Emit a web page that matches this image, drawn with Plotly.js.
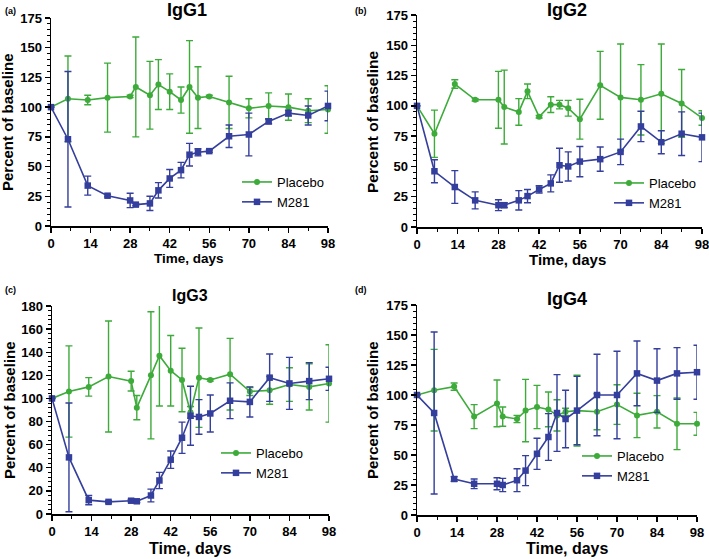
<!DOCTYPE html>
<html>
<head>
<meta charset="utf-8">
<script src="https://cdn.plot.ly/plotly-3.0.1.min.js"></script>
<style>
  html, body { margin: 0; padding: 0; background: #fff; }
  #chart { width: 709px; height: 559px; }
</style>
</head>
<body>
<div id="chart"></div>
<script>
// sampling days (same in every panel)
var days = [0, 6, 13, 20, 28, 30, 35, 38, 42, 46, 49, 52, 56, 63, 70, 77, 84, 91, 98];

// IgG1
var igg1Placebo    = [100, 107, 106, 108, 109, 117, 110, 119, 113, 106, 117, 108, 109, 104, 99, 101, 100, 97, 98];
var igg1PlaceboErr = [0, 36, 4, 29, 1, 42, 28.5, 21, 15, 11, 39, 26, 1, 22, 8, 11, 11, 10, 20];
var igg1M281       = [100, 73, 34, 25.5, 21.5, 18, 19, 30, 40, 47, 60, 62, 63, 75.5, 77, 88, 95, 93, 101];
var igg1M281Err    = [0, 57, 8, 1, 6, 1, 6, 6.5, 7.5, 6.5, 9.5, 3, 1, 9.5, 18, 2, 2.5, 8, 12.5];

// IgG2
var igg2Placebo    = [100, 77, 118, 105, 105, 99, 95, 112, 91, 101, 101, 98, 89, 117, 107, 105, 110, 102, 90];
var igg2PlaceboErr = [0, 19.5, 3.5, 1, 23.5, 30.5, 11, 6, 1, 6.5, 3.5, 6.5, 16.5, 28, 44, 29, 41, 28, 6];
var igg2M281       = [100, 46, 33, 22, 18, 18, 22, 25.5, 31, 36, 51, 50, 54, 56, 62, 83, 70, 77, 74];
var igg2M281Err    = [0, 9.5, 13.5, 7, 4.5, 2, 8, 5.5, 3, 7, 14, 12, 12.5, 10, 10.5, 12.5, 9.5, 18, 20];

// IgG3
var igg3Placebo    = [100, 106, 110, 119, 115, 92, 120, 137, 124, 116, 88, 118, 116, 121, 106, 107, 112, 110, 113];
var igg3PlaceboErr = [0, 39.5, 8, 48, 8.5, 10.5, 55, 43.5, 30.5, 27.5, 5, 43, 1, 31, 3.5, 12, 14.5, 20, 33.5];
var igg3M281       = [100, 49, 12, 10.5, 11.5, 11, 16, 29, 47, 66, 85, 84, 87, 98, 97, 118, 113, 115, 117];
var igg3M281Err    = [0, 47, 4, 1, 1, 1, 5.5, 7, 7.5, 13.5, 25.5, 15, 16, 15.5, 13, 20.5, 22.5, 16, 10];

// IgG4
var igg4Placebo    = [100, 104, 107, 82, 93, 82, 80, 87, 90, 88, 83, 86, 87, 86, 92, 83, 86, 76, 76];
var igg4PlaceboErr = [0, 34, 3, 10, 19.5, 8, 3, 26, 18, 14.5, 13, 3, 29.5, 15, 16.5, 18.5, 13.5, 21.5, 9.5];
var igg4M281       = [100, 85, 30, 26, 26, 25, 29, 37, 51, 65, 85, 80, 87, 100, 100, 118, 112, 118, 119];
var igg4M281Err    = [0, 67.5, 2, 4, 5, 5.5, 9.5, 12.5, 13, 19.5, 32, 24, 28.5, 34, 36.5, 27, 26.5, 21.5, 22.5];

var green = '#3DAB3A';
var blue = '#343E9C';
var fontFamily = 'Arial, "Liberation Sans", sans-serif';
var narrowFamily = '"Liberation Sans Narrow", "Arial Narrow", Arial, "Liberation Sans", sans-serif';

var panels = [
    {name: 'IgG1', tag: '(a)', placebo: igg1Placebo, placeboErr: igg1PlaceboErr, m281: igg1M281, m281Err: igg1M281Err},
    {name: 'IgG2', tag: '(b)', placebo: igg2Placebo, placeboErr: igg2PlaceboErr, m281: igg2M281, m281Err: igg2M281Err},
    {name: 'IgG3', tag: '(c)', placebo: igg3Placebo, placeboErr: igg3PlaceboErr, m281: igg3M281, m281Err: igg3M281Err},
    {name: 'IgG4', tag: '(d)', placebo: igg4Placebo, placeboErr: igg4PlaceboErr, m281: igg4M281, m281Err: igg4M281Err}
];

// pixel boxes of each plot area (left, right, top, bottom)
var boxes = [
    [51, 328, 18, 226],
    [417, 702, 15, 227],
    [52, 329, 306, 514],
    [417, 697, 305, 515]
];
var yMax = [175, 175, 180, 175];
var yDtick = [25, 25, 20, 25];
var yMinor = [5, 5, 4, 5];
var legendPos = [[237, 167], [609, 168], [216, 438], [577, 441]];
var titlePos = [[187, 10, 18], [567, 10, 18], [190, 295, 16], [567, 299, 18]];
var tagPos = [[3, 4], [353, 4], [3, 283], [353, 283]];
var xTitlePos = [[189, 258, 13.5], [567, 259, 15], [190, 548, 16], [567, 548, 16]];
var yTitlePos = [[8, 122, 15], [373, 121, 15.5], [9, 410, 15], [372, 410, 15]];

var W = 709, H = 559;
var traces = [];
var layout = {
    width: W,
    height: H,
    margin: {l: 0, r: 0, t: 0, b: 0},
    paper_bgcolor: '#fff',
    plot_bgcolor: 'rgba(0,0,0,0)',
    font: {family: fontFamily, color: '#000'},
    annotations: []
};

function getTrace(name, y, err, color, symbol, size, idx, legendName){
    let suffix = idx === 0 ? '' : String(idx + 1);
    return {
        name: name,
        x: days,
        y: y,
        type: 'scatter',
        mode: 'lines+markers',
        xaxis: 'x' + suffix,
        yaxis: 'y' + suffix,
        legend: legendName,
        cliponaxis: false,
        line: {color: color, width: 1.6},
        marker: {color: color, symbol: symbol, size: size},
        error_y: {type: 'data', array: err, visible: true, color: color, thickness: 1.4, width: 3.5}
    };
}

function getXAxis(i){
    let b = boxes[i];
    return {
        domain: [b[0] / W, b[1] / W],
        range: [0, 98],
        anchor: i === 0 ? 'y' : 'y' + (i + 1),
        tickvals: [0, 14, 28, 42, 56, 70, 84, 98],
        ticks: 'outside',
        ticklen: 5,
        tickwidth: 1.3,
        tickcolor: '#000',
        minor: {dtick: 7, tick0: 0, ticks: 'outside', ticklen: 3, tickcolor: '#000', tickwidth: 1},
        showline: true,
        linecolor: '#000',
        linewidth: 1.5,
        showgrid: false,
        zeroline: false,
        ticklabeloverflow: 'allow',
        tickfont: {family: fontFamily, size: 13, weight: 'bold'}
    };
}

function getYAxis(i){
    let b = boxes[i];
    return {
        domain: [1 - b[3] / H, 1 - b[2] / H],
        range: [0, yMax[i]],
        anchor: i === 0 ? 'x' : 'x' + (i + 1),
        dtick: yDtick[i],
        ticks: 'outside',
        ticklen: 5,
        tickwidth: 1.3,
        tickcolor: '#000',
        minor: {dtick: yMinor[i], ticks: 'outside', ticklen: 3, tickcolor: '#000', tickwidth: 1},
        showline: true,
        linecolor: '#000',
        linewidth: 1.5,
        showgrid: false,
        zeroline: false,
        ticklabeloverflow: 'allow',
        tickfont: {family: fontFamily, size: 13, weight: 'bold'}
    };
}

function paperText(text, px, py, size, family, extra){
    let a = {
        text: text,
        xref: 'paper', yref: 'paper',
        x: px / W, y: 1 - py / H,
        xanchor: 'center', yanchor: 'middle',
        showarrow: false,
        font: {family: family, size: size, color: '#000'}
    };
    return Object.assign(a, extra || {});
}

for (let i = 0; i < panels.length; i++){
    let p = panels[i];
    let suffix = i === 0 ? '' : String(i + 1);
    let legendName = 'legend' + suffix;

    traces.push(getTrace('Placebo', p.placebo, p.placeboErr, green, 'circle', 6, i, legendName));
    traces.push(getTrace('M281', p.m281, p.m281Err, blue, 'square', 6.5, i, legendName));

    layout['xaxis' + suffix] = getXAxis(i);
    layout['yaxis' + suffix] = getYAxis(i);

    layout[legendName] = {
        x: legendPos[i][0] / W,
        y: 1 - legendPos[i][1] / H,
        xanchor: 'left',
        yanchor: 'top',
        bgcolor: 'rgba(0,0,0,0)',
        font: {family: fontFamily, size: 13, color: '#000'},
        tracegroupgap: 0,
        itemwidth: 30
    };

    layout.annotations.push(paperText('<b>' + p.name + '</b>', titlePos[i][0], titlePos[i][1], titlePos[i][2], fontFamily));
    layout.annotations.push(paperText('<b>' + p.tag + '</b>', tagPos[i][0], tagPos[i][1], 9, fontFamily, {xanchor: 'left', yanchor: 'top'}));
    layout.annotations.push(paperText('<b>Time, days</b>', xTitlePos[i][0], xTitlePos[i][1], xTitlePos[i][2], fontFamily));
    layout.annotations.push(paperText('<b>Percent of baseline</b>', yTitlePos[i][0], yTitlePos[i][1], yTitlePos[i][2], narrowFamily, {textangle: -90}));
}

Plotly.newPlot('chart', traces, layout, {displayModeBar: false, staticPlot: true});
</script>
</body>
</html>
